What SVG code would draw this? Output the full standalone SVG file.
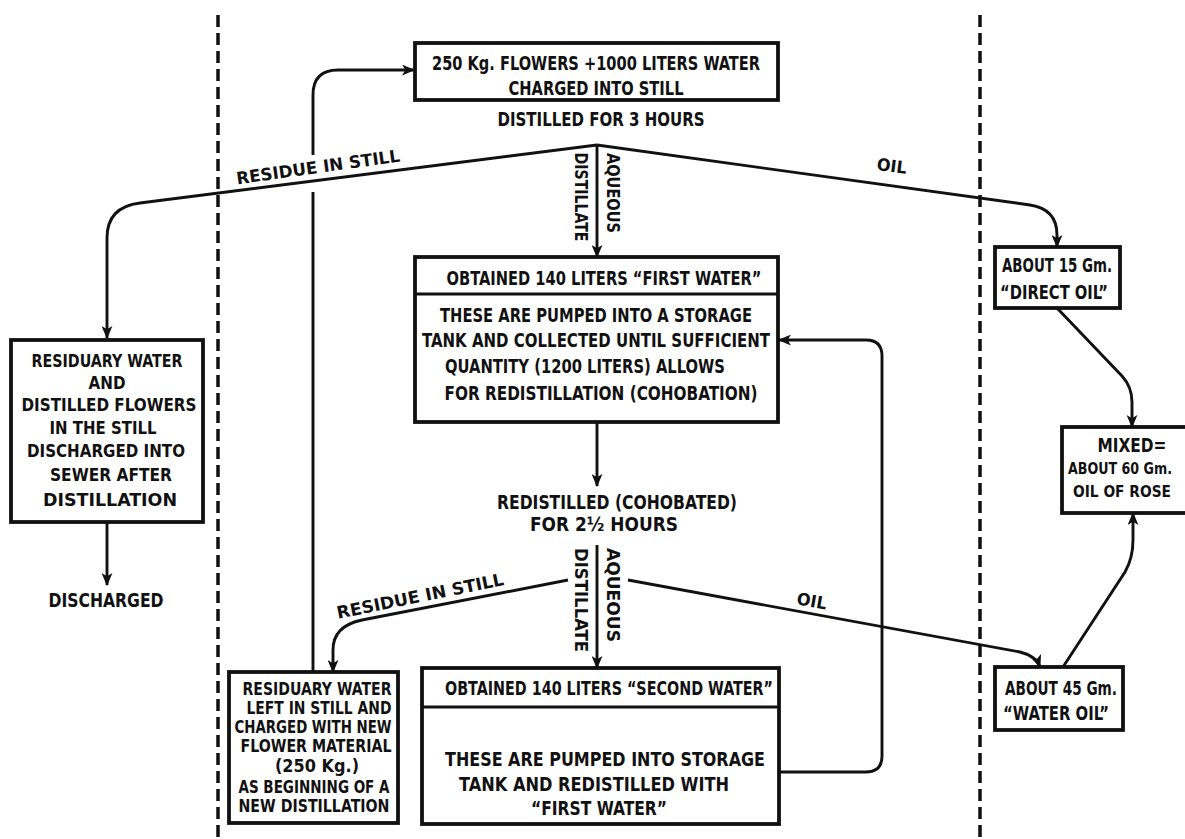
<svg xmlns="http://www.w3.org/2000/svg" width="1185" height="839" viewBox="0 0 1185 839">
<defs>
<style>
text{font-family:"Liberation Sans Narrow","DejaVu Sans Condensed","Liberation Sans",sans-serif;font-weight:bold;fill:#111;text-anchor:middle}
.t19{font-size:20px}
.t18{font-size:19px}
.t17{font-size:17.5px}
.t16{font-size:17px}
.t15{font-size:16px}
.box{fill:#fff;stroke:#111;stroke-width:3.8}
.div{stroke:#111;stroke-width:3.2}
.ln{fill:none;stroke:#111;stroke-width:2.9}
.dash{stroke:#111;stroke-width:3.5;stroke-dasharray:12 6}
</style>
<marker id="ah" viewBox="0 0 12 10" refX="11" refY="5" markerWidth="13" markerHeight="11" markerUnits="userSpaceOnUse" orient="auto">
<path d="M0,0 L12,5 L0,10 L3,5 z" fill="#111"/>
</marker>
</defs>
<rect width="1185" height="839" fill="#fff"/>

<g id="separators">
<line class="dash" x1="218" y1="15" x2="218" y2="839"/>
<line class="dash" x1="980" y1="15" x2="980" y2="839"/>
</g>

<g id="connectors">
<path class="ln" d="M597,145 L140,203 Q107,207 107,238 L107,338" marker-end="url(#ah)"/>
<path class="ln" d="M597,145 L1030,205 Q1057,209 1057,235 L1057,247" marker-end="url(#ah)"/>
<path class="ln" d="M597,145 L597,257" marker-end="url(#ah)"/>
<path class="ln" d="M597,422 L597,486" marker-end="url(#ah)"/>
<path class="ln" d="M107,522 L107,585" marker-end="url(#ah)"/>
<path class="ln" d="M597,545 L597,668" marker-end="url(#ah)"/>
<path class="ln" d="M568,580 L362,620 Q333,626 333,650 L333,672" marker-end="url(#ah)"/>
<path class="ln" d="M628,580 L1020,652 Q1036,656 1040,667" marker-end="url(#ah)"/>
<path class="ln" d="M313,672 L313,192"/>
<path class="ln" d="M313,155 L313,95 Q313,70 338,70 L414,70" marker-end="url(#ah)"/>
<path class="ln" d="M780,772 L866,772 Q882,772 882,756 L882,356 Q882,340 866,340 L779,340" marker-end="url(#ah)"/>
<path class="ln" d="M1057,308 L1122,376 Q1132,387 1132,402 L1132,427" marker-end="url(#ah)"/>
<path class="ln" d="M1063,667 L1125,572 Q1133,558 1133,540 L1133,513" marker-end="url(#ah)"/>
<text class="t16" x="318" y="173" textLength="165" lengthAdjust="spacingAndGlyphs" transform="rotate(-8 318 167)">RESIDUE IN STILL</text>
<text class="t16" x="892" y="172" textLength="30" lengthAdjust="spacingAndGlyphs" transform="rotate(7 892 165)">OIL</text>
<text class="t16" x="420" y="602" textLength="170" lengthAdjust="spacingAndGlyphs" transform="rotate(-11.5 420 595)">RESIDUE IN STILL</text>
<text class="t16" x="812" y="607" textLength="30" lengthAdjust="spacingAndGlyphs" transform="rotate(10 812 600)">OIL</text>
<text class="t16" x="0" y="0" textLength="89" lengthAdjust="spacingAndGlyphs" transform="translate(575,197) rotate(90)">DISTILLATE</text>
<text class="t16" x="0" y="0" textLength="80" lengthAdjust="spacingAndGlyphs" transform="translate(607,193) rotate(90)">AQUEOUS</text>
<text class="t16" x="0" y="0" textLength="104" lengthAdjust="spacingAndGlyphs" transform="translate(575,600) rotate(90)">DISTILLATE</text>
<text class="t16" x="0" y="0" textLength="94" lengthAdjust="spacingAndGlyphs" transform="translate(607,595) rotate(90)">AQUEOUS</text>
</g>

<g id="charge">
<rect class="box" x="415" y="43" width="363" height="57"/>
<text class="t19" x="596" y="70" textLength="328" lengthAdjust="spacingAndGlyphs">250 Kg. FLOWERS +1000 LITERS WATER</text>
<text class="t19" x="596" y="95" textLength="175" lengthAdjust="spacingAndGlyphs">CHARGED INTO STILL</text>
</g>

<g id="distilled">
<text class="t19" x="601" y="126" textLength="207" lengthAdjust="spacingAndGlyphs">DISTILLED FOR 3 HOURS</text>
</g>

<g id="first-water">
<rect class="box" x="415" y="257" width="363" height="165"/>
<line class="div" x1="415" y1="294" x2="778" y2="294"/>
<text class="t19" x="604" y="285" textLength="315" lengthAdjust="spacingAndGlyphs">OBTAINED 140 LITERS “FIRST WATER”</text>
<text class="t19" x="596" y="322" textLength="312" lengthAdjust="spacingAndGlyphs">THESE ARE PUMPED INTO A STORAGE</text>
<text class="t19" x="596" y="347" textLength="348" lengthAdjust="spacingAndGlyphs">TANK AND COLLECTED UNTIL SUFFICIENT</text>
<text class="t19" x="585" y="373" textLength="280" lengthAdjust="spacingAndGlyphs">QUANTITY (1200 LITERS) ALLOWS</text>
<text class="t19" x="601" y="400" textLength="313" lengthAdjust="spacingAndGlyphs">FOR REDISTILLATION (COHOBATION)</text>
</g>

<g id="discharge-box">
<rect class="box" x="11" y="340" width="192" height="182"/>
<text class="t17" x="107" y="367" textLength="151" lengthAdjust="spacingAndGlyphs">RESIDUARY WATER</text>
<text class="t17" x="107" y="389" textLength="37" lengthAdjust="spacingAndGlyphs">AND</text>
<text class="t17" x="109" y="411" textLength="175" lengthAdjust="spacingAndGlyphs">DISTILLED FLOWERS</text>
<text class="t17" x="103" y="434" textLength="107" lengthAdjust="spacingAndGlyphs">IN THE STILL</text>
<text class="t17" x="106" y="457" textLength="158" lengthAdjust="spacingAndGlyphs">DISCHARGED INTO</text>
<text class="t17" x="111" y="481" textLength="122" lengthAdjust="spacingAndGlyphs">SEWER AFTER</text>
<text class="t17" x="110" y="506" textLength="134" lengthAdjust="spacingAndGlyphs">DISTILLATION</text>
</g>

<g id="discharged">
<text class="t18" x="106" y="607" textLength="115" lengthAdjust="spacingAndGlyphs">DISCHARGED</text>
</g>

<g id="redistilled">
<text class="t18" x="617" y="509" textLength="240" lengthAdjust="spacingAndGlyphs">REDISTILLED (COHOBATED)</text>
<text class="t18" x="604" y="531" textLength="148" lengthAdjust="spacingAndGlyphs">FOR 2½ HOURS</text>
</g>

<g id="second-water">
<rect class="box" x="422" y="668" width="357" height="156"/>
<line class="div" x1="422" y1="707" x2="779" y2="707"/>
<text class="t18" x="609" y="695" textLength="328" lengthAdjust="spacingAndGlyphs">OBTAINED 140 LITERS “SECOND WATER”</text>
<text class="t19" x="605" y="766" textLength="320" lengthAdjust="spacingAndGlyphs">THESE ARE PUMPED INTO STORAGE</text>
<text class="t19" x="594" y="791" textLength="270" lengthAdjust="spacingAndGlyphs">TANK  AND REDISTILLED WITH</text>
<text class="t19" x="599" y="815" textLength="136" lengthAdjust="spacingAndGlyphs">“FIRST WATER”</text>
</g>

<g id="residual-new">
<rect class="box" x="229" y="672" width="169" height="151"/>
<text class="t16" x="317" y="695" textLength="149" lengthAdjust="spacingAndGlyphs">RESIDUARY WATER</text>
<text class="t16" x="319" y="714" textLength="145" lengthAdjust="spacingAndGlyphs">LEFT IN STILL AND</text>
<text class="t16" x="313" y="733" textLength="157" lengthAdjust="spacingAndGlyphs">CHARGED WITH NEW</text>
<text class="t16" x="316" y="752" textLength="151" lengthAdjust="spacingAndGlyphs">FLOWER MATERIAL</text>
<text class="t16" x="317" y="772" textLength="84" lengthAdjust="spacingAndGlyphs">(250 Kg.)</text>
<text class="t16" x="314" y="793" textLength="151" lengthAdjust="spacingAndGlyphs">AS BEGINNING OF A</text>
<text class="t16" x="314" y="812" textLength="151" lengthAdjust="spacingAndGlyphs">NEW DISTILLATION</text>
</g>

<g id="direct-oil">
<rect class="box" x="995" y="247" width="125" height="61"/>
<text class="t18" x="1057" y="272" textLength="110" lengthAdjust="spacingAndGlyphs">ABOUT 15 Gm.</text>
<text class="t18" x="1054" y="299" textLength="108" lengthAdjust="spacingAndGlyphs">“DIRECT OIL”</text>
</g>

<g id="mixed">
<rect class="box" x="1062" y="427" width="140" height="86"/>
<text class="t18" x="1132" y="452" textLength="69" lengthAdjust="spacingAndGlyphs">MIXED=</text>
<text class="t15" x="1068" y="474" style="text-anchor:start" textLength="104" lengthAdjust="spacingAndGlyphs">ABOUT 60 Gm.</text>
<text class="t15" x="1073" y="497" style="text-anchor:start" textLength="98" lengthAdjust="spacingAndGlyphs">OIL OF ROSE</text>
</g>

<g id="water-oil">
<rect class="box" x="995" y="667" width="128" height="63"/>
<text class="t18" x="1061" y="695" textLength="112" lengthAdjust="spacingAndGlyphs">ABOUT 45 Gm.</text>
<text class="t18" x="1056" y="720" textLength="106" lengthAdjust="spacingAndGlyphs">“WATER OIL”</text>
</g>
</svg>
